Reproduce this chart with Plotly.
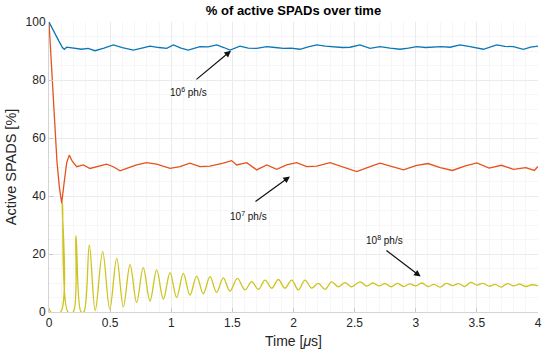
import plotly.graph_objects as go

# ---- data ----
blue_t = [0, 0.04, 0.08, 0.11, 0.125, 0.145, 0.2, 0.267, 0.32, 0.376, 0.45, 0.526, 0.6, 0.69,
          0.76, 0.826, 0.9, 0.963, 1.017, 1.08, 1.139, 1.19, 1.235, 1.3, 1.372, 1.43, 1.481,
          1.562, 1.63, 1.699, 1.781, 1.85, 1.917, 1.98, 2.053, 2.12, 2.19, 2.26, 2.326, 2.4,
          2.462, 2.544, 2.626, 2.708, 2.79, 2.871, 2.94, 3.008, 3.08, 3.144, 3.21, 3.28, 3.362,
          3.444, 3.5, 3.553, 3.662, 3.73, 3.798, 3.88, 3.94, 4.0]
blue_v = [100, 97, 93.5, 91.2, 90.6, 91.3, 91.0, 90.6, 90.9, 90.1, 91.0, 92.1, 91.2, 90.3,
          91.0, 91.7, 91.2, 90.9, 92.1, 91.0, 90.3, 91.0, 91.5, 91.4, 92.1, 91.2, 90.3,
          91.7, 91.0, 90.9, 91.5, 91.2, 90.9, 91.0, 90.6, 91.4, 92.1, 91.7, 91.5, 91.2,
          91.3, 92.1, 90.9, 91.5, 91.0, 90.6, 91.0, 91.5, 91.2, 91.3, 91.5, 91.3, 92.1,
          91.5, 91.1, 90.6, 92.1, 91.6, 91.5, 90.6, 91.3, 91.7]

orange_t = [0, 0.065, 0.085, 0.104, 0.125, 0.145, 0.166, 0.19, 0.227, 0.281, 0.335, 0.417,
            0.472, 0.526, 0.581, 0.636, 0.717, 0.799, 0.881, 0.99, 1.072, 1.153, 1.235, 1.317,
            1.426, 1.494, 1.535, 1.617, 1.699, 1.781, 1.863, 1.944, 2.026, 2.108, 2.19, 2.299,
            2.38, 2.517, 2.626, 2.708, 2.8, 2.9, 3.0, 3.1, 3.2, 3.3, 3.4, 3.5, 3.6, 3.7, 3.8,
            3.9, 3.97, 4.0]
orange_v = [100, 52, 43, 37.5, 45, 51.5, 54.1, 52, 50.1, 50.7, 49.5, 50.3,
            51.0, 50.1, 48.7, 49.5, 50.7, 51.5, 51.0, 49.5, 50.1, 51.3, 50.1, 50.3,
            51.3, 52.2, 50.7, 51.5, 49.0, 50.7, 49.2, 50.7, 51.5, 50.1, 50.3, 51.5,
            50.3, 48.4, 50.1, 51.3, 50.2, 49.0, 50.5, 51.2, 49.8, 48.8, 50.3, 51.4, 49.6, 50.6, 49.2,
            49.8, 48.8, 50.2]

yellow_t = [0, 0.015, 0.095, 0.109, 0.155, 0.198, 0.221, 0.262, 0.285, 0.330, 0.378, 0.439,
            0.497, 0.554, 0.608, 0.663, 0.717, 0.771, 0.826, 0.881, 0.935, 0.990, 1.044, 1.099,
            1.153, 1.208, 1.262, 1.317, 1.371, 1.426, 1.480, 1.541, 1.603, 1.658, 1.713, 1.767,
            1.822, 1.876, 1.930, 1.985, 2.040, 2.094, 2.149, 2.203, 2.258, 2.312, 2.367, 2.421,
            2.476, 2.544, 2.6, 2.65, 2.7, 2.75, 2.8, 2.85, 2.9, 2.95, 3.0, 3.05, 3.1, 3.15, 3.2,
            3.25, 3.3, 3.35, 3.4, 3.45, 3.5, 3.55, 3.6, 3.65, 3.7, 3.75, 3.8, 3.85, 3.9, 3.95, 4.0]
yellow_v = [100, 0, 0, 37.5, 0, 0, 26.2, 0, 0, 23.1, 0.5, 20.8,
            0.9, 18.5, 1.8, 16.3, 3.3, 15.3, 3.8, 14.5, 4.4, 13.6, 5.0, 13.3,
            5.8, 12.4, 6.3, 12.2, 6.8, 11.8, 7.2, 11.6, 7.6, 10.5, 7.8, 11.0,
            8.2, 11.2, 8.2, 11.0, 7.6, 11.0, 8.2, 9.9, 7.8, 10.4, 8.7, 10.1,
            8.7, 10.4, 8.9, 10.0, 9.0, 9.8, 8.7, 9.9, 8.8, 9.7, 9.0, 10.0, 8.8, 9.5, 8.6,
            9.9, 9.1, 9.8, 8.8, 10.2, 9.3, 9.9, 8.9, 9.5, 8.6, 9.8, 9.0, 9.6, 8.8, 9.4, 9.0]

labels = ["10<sup>6</sup> ph/s", "10<sup>7</sup> ph/s", "10<sup>8</sup> ph/s"]
label_pos = [(1.137, 75.9), (1.628, 33.1), (2.748, 24.8)]
arrow_tail = [(1.194, 79.8), (1.677, 37.7), (2.748, 21.6)]
arrow_head = [(1.489, 90.1), (1.971, 46.7), (3.04, 12.2)]

x_ticks = [0, 0.5, 1, 1.5, 2, 2.5, 3, 3.5, 4]
y_ticks = [0, 20, 40, 60, 80, 100]

FONT = "Liberation Sans, Arial, Helvetica, sans-serif"

fig = go.Figure()
fig.add_trace(go.Scatter(x=yellow_t, y=yellow_v, mode="lines",
                         line=dict(color="#cdc41f", width=1.3, shape="spline", smoothing=1.0)))
fig.add_trace(go.Scatter(x=orange_t, y=orange_v, mode="lines",
                         line=dict(color="#e4531c", width=1.3)))
fig.add_trace(go.Scatter(x=blue_t, y=blue_v, mode="lines",
                         line=dict(color="#0a78b6", width=1.3)))

for (tx, ty), lab in zip(label_pos, labels):
    fig.add_annotation(x=tx, y=ty, text=lab, showarrow=False,
                       font=dict(family=FONT, size=10, color="#111"))
for (ax_, ay_), (hx, hy) in zip(arrow_tail, arrow_head):
    fig.add_annotation(x=hx, y=hy, ax=ax_, ay=ay_, axref="x", ayref="y", xref="x", yref="y",
                       text="", showarrow=True, arrowhead=2, arrowsize=1.1, arrowwidth=1.2,
                       arrowcolor="#111")

fig.update_layout(
    width=550, height=356,
    margin=dict(l=49, r=12, t=22, b=44),
    paper_bgcolor="white", plot_bgcolor="white",
    showlegend=False,
    title=dict(text="<b>% of active SPADs over time</b>", xref="paper", x=0.5, xanchor="center",
               yref="container", y=0.972, yanchor="middle",
               font=dict(family=FONT, size=13, color="#000")),
    font=dict(family=FONT, color="#262626"),
)
fig.update_xaxes(range=[0, 4], tickvals=x_ticks, ticktext=[f"{v:g}" for v in x_ticks],
                 automargin=False,
                 showgrid=True, gridcolor="#ebebeb", gridwidth=1,
                 minor=dict(dtick=0.1, showgrid=True, gridcolor="#f6f6f6", ticks=""),
                 showline=True, linecolor="#d4d4d4", linewidth=1,
                 ticks="inside", ticklen=4, tickcolor="#c8c8c8",
                 tickfont=dict(size=12, color="#262626"), zeroline=False,
                 title=dict(text="Time [<i>μ</i>s]", font=dict(size=14, color="#262626"), standoff=6))
fig.update_yaxes(range=[0, 100], tickvals=y_ticks, automargin=False,
                 showgrid=True, gridcolor="#ebebeb", gridwidth=1,
                 minor=dict(dtick=5, showgrid=True, gridcolor="#f6f6f6", ticks=""),
                 showline=True, linecolor="#d4d4d4", linewidth=1,
                 ticks="inside", ticklen=4, tickcolor="#c8c8c8",
                 tickfont=dict(size=12, color="#262626"), zeroline=False,
                 title=dict(text="Active SPADS [%]", font=dict(size=14.5, color="#262626"), standoff=5))

fig.write_html("out.html", config={"displayModeBar": False},
               post_script="document.body.style.margin='0px';")
